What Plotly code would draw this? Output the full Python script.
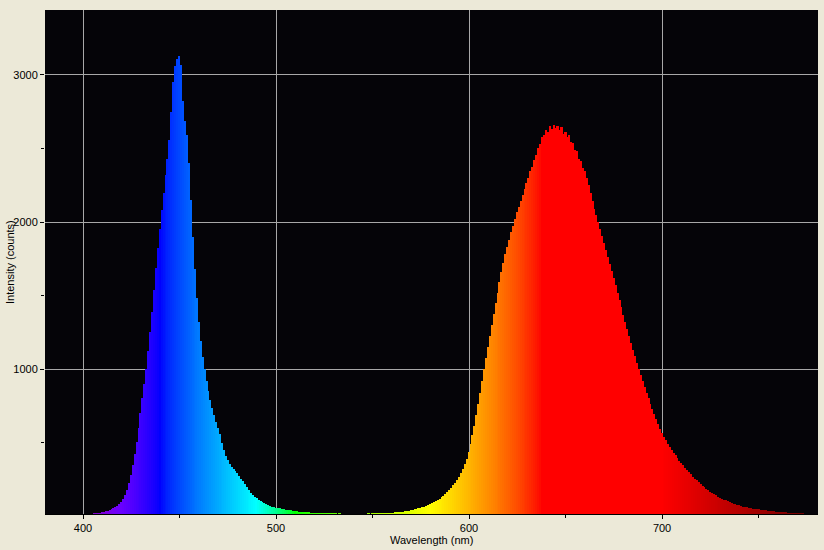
import plotly.graph_objects as go

# ---- data ----
wl_start = 380
intensity = [
    2, 2, 3, 3, 3, 4, 4, 4, 5, 5,            # 380
    5, 6, 6, 6, 7, 7, 8, 8, 9, 9,            # 390
    10, 11, 12, 13, 14, 16, 18, 20, 22, 24,  # 400
    27, 30, 33, 37, 41, 46, 52, 60, 70, 82,  # 410
    98, 118, 145, 180, 225, 280, 345, 420, 505, 600,  # 420
    700, 800, 900, 1000, 1120, 1250, 1390, 1540, 1690, 1820,  # 430
    1950, 2080, 2200, 2320, 2430, 2560, 2750, 2950, 3060, 3110,  # 440
    3130, 3070, 2820, 2690, 2590, 2400, 2150, 1900, 1680, 1480,  # 450
    1320, 1190, 1080, 1000, 920, 850, 790, 735, 685, 640,  # 460
    600, 560, 500, 450, 410, 380, 355, 335, 318, 305,  # 470
    292, 275, 255, 236, 215, 196, 178, 160, 146, 133,  # 480
    122, 112, 103, 95, 88, 82, 76, 70, 65, 61,  # 490
    58, 55, 52, 49, 46, 44, 42, 40, 38, 36,  # 500
    34, 32, 31, 30, 28, 27, 26, 25, 24, 23,  # 510
    22, 21, 21, 20, 20, 19, 20, 19, 18, 19,  # 520
    18, 18, 17, 18, 17, 17, 16, 17, 16, 16,  # 530
    16, 17, 16, 16, 17, 16, 17, 17, 18, 17,  # 540
    18, 18, 19, 19, 20, 20, 21, 21, 22, 23,  # 550
    23, 24, 25, 26, 27, 29, 31, 33, 35, 37,  # 560
    39, 42, 45, 48, 52, 56, 60, 65, 70, 76,  # 570
    82, 88, 95, 102, 110, 118, 128, 138, 150, 163,  # 580
    177, 192, 208, 226, 246, 268, 292, 320, 352, 390,  # 590
    435, 490, 550, 615, 685, 760, 840, 920, 1000, 1075,  # 600
    1150, 1225, 1300, 1375, 1450, 1520, 1590, 1660, 1720, 1780,  # 610
    1830, 1880, 1930, 1975, 2020, 2065, 2105, 2145, 2185, 2225,  # 620
    2265, 2300, 2345, 2375, 2425, 2455, 2505, 2530, 2575, 2590,  # 630
    2625, 2610, 2650, 2630, 2660, 2640, 2655, 2625, 2645, 2600,  # 640
    2615, 2580, 2590, 2545, 2540, 2490, 2480, 2430, 2415, 2365,  # 650
    2345, 2300, 2250, 2195, 2140, 2090, 2045, 2000, 1955, 1905,  # 660
    1860, 1810, 1765, 1715, 1665, 1620, 1570, 1520, 1470, 1420,  # 670
    1370, 1320, 1272, 1225, 1178, 1132, 1087, 1043, 1000, 958,  # 680
    917, 877, 838, 800, 763, 727, 692, 658, 625, 594,  # 690
    565, 540, 515, 492, 470, 450, 430, 412, 394, 377,  # 700
    360, 344, 328, 313, 298, 283, 268, 255, 242, 230,  # 710
    218, 207, 196, 186, 176, 166, 157, 148, 140, 132,  # 720
    125, 118, 112, 106, 100, 95, 90, 85, 80, 76,  # 730
    72, 68, 65, 62, 59, 56, 54, 51, 49, 47,  # 740
    45, 43, 41, 39, 38, 36, 35, 33, 32, 31,  # 750
    30, 28, 27, 26, 25, 24, 23, 22, 21, 21,  # 760
    20, 19, 18, 18, 17, 17, 16, 16, 15, 15,  # 770
    14,  # 780
]
wavelengths = [wl_start + i for i in range(len(intensity))]

x_ticks = [400, 500, 600, 700]
y_ticks = [1000, 2000, 3000]
x_title = "Wavelength (nm)"
y_title = "Intensity (counts)"


# ---- style: wavelength -> visible colour ----
def wl_color(w):
    if w < 440:
        r, g, b = -(w - 440) / 60.0, 0.0, 1.0
    elif w < 490:
        r, g, b = 0.0, (w - 440) / 50.0, 1.0
    elif w < 510:
        r, g, b = 0.0, 1.0, -(w - 510) / 20.0
    elif w < 580:
        r, g, b = (w - 510) / 70.0, 1.0, 0.0
    elif w < 638:
        r, g, b = 1.0, -(w - 638) / 58.0, 0.0
    else:
        r, g, b = 1.0, 0.0, 0.0
    if w < 420:
        f = 0.3 + 0.7 * (w - 380) / 40.0
    elif w > 700:
        f = 0.3 + 0.7 * (780 - w) / 80.0
    else:
        f = 1.0
    def c(v):
        v = max(0.0, min(1.0, v))
        return int(round(255 * (v * f) ** 0.8)) if v > 0 else 0
    return "rgb(%d,%d,%d)" % (c(r), c(g), c(b))


colors = [wl_color(w) for w in wavelengths]

fig = go.Figure(go.Bar(
    x=wavelengths, y=intensity, width=1.0,
    marker=dict(color=colors, line=dict(width=0)),
    hoverinfo="x+y",
))

font = dict(family="Liberation Sans, Arial, sans-serif", size=11, color="black")

fig.update_layout(
    width=824, height=550,
    paper_bgcolor="#ECE9D8", plot_bgcolor="#050408",
    margin=dict(l=45, r=6, t=10, b=36),
    bargap=0, showlegend=False, font=font,
    xaxis=dict(
        range=[380.3, 780.8], tickvals=x_ticks, ticks="outside", ticklen=4,
        tickcolor="black", showgrid=True, gridcolor="#A8A8A8", gridwidth=1,
        zeroline=False, showline=True, linecolor="black", linewidth=1,
        minor=dict(dtick=50, tick0=400, ticks="outside", ticklen=3, tickcolor="black", showgrid=False),
        automargin=False, tickfont=font,
    ),
    yaxis=dict(
        range=[14, 3442], tickvals=y_ticks, ticks="outside", ticklen=4,
        tickcolor="black", showgrid=True, gridcolor="#A8A8A8", gridwidth=1,
        zeroline=False, showline=False,
        minor=dict(dtick=500, tick0=0, ticks="outside", ticklen=3, tickcolor="black", showgrid=False),
        automargin=False, tickfont=font,
    ),
    annotations=[
        dict(text=x_title, xref="paper", yref="paper", x=0.5, y=0, yshift=-26,
             xanchor="center", yanchor="middle", showarrow=False, font=font),
        dict(text=y_title, xref="paper", yref="paper", x=0, y=0.5, xshift=-35,
             xanchor="center", yanchor="middle", textangle=-90, showarrow=False, font=font),
    ],
)

fig.write_html("out.html", config={"displayModeBar": False},
               post_script="document.body.style.margin='0';")
